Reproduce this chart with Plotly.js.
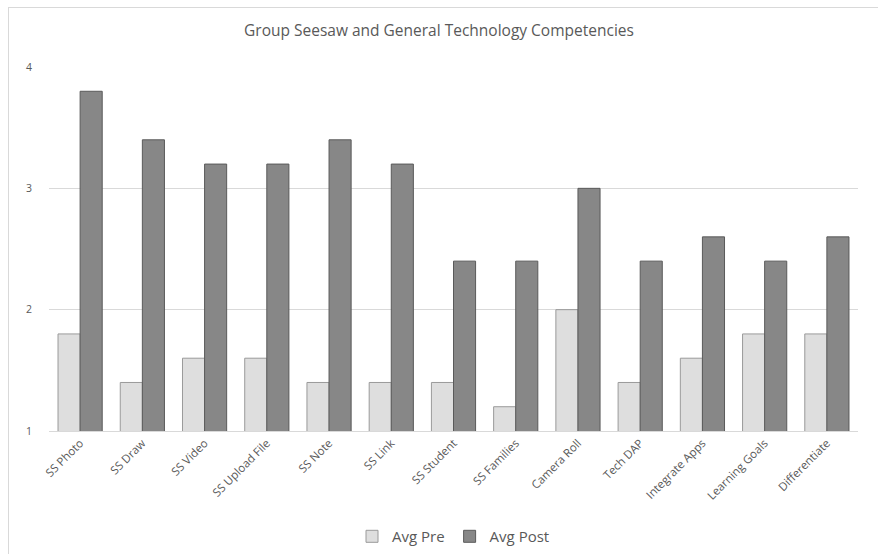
<!DOCTYPE html>
<html>
<head>
<meta charset="utf-8">
<script src="https://cdn.plot.ly/plotly-3.0.1.min.js"></script>
<style>
  html, body { margin: 0; padding: 0; background: #ffffff; }
  #wrap { position: relative; width: 878px; height: 554px; }
  #frame { position: absolute; left: 8px; top: 7px; right: 0; bottom: 0;
           border-left: 1px solid #d9d9d9; border-top: 1px solid #d9d9d9; }
  #chart { position: absolute; left: 0; top: 0; width: 878px; height: 554px; }
</style>
</head>
<body>
<div id="wrap">
  <div id="frame"></div>
  <div id="chart"></div>
</div>
<script>
const categories = ["SS Photo", "SS Draw", "SS Video", "SS Upload File", "SS Note", "SS Link",
  "SS Student", "SS Families", "Camera Roll", "Tech DAP", "Integrate Apps", "Learning Goals", "Differentiate"];
const avgPre  = [1.8, 1.4, 1.6, 1.6, 1.4, 1.4, 1.4, 1.2, 2.0, 1.4, 1.6, 1.8, 1.8];
const avgPost = [3.8, 3.4, 3.2, 3.2, 3.4, 3.2, 2.4, 2.4, 3.0, 2.4, 2.6, 2.4, 2.6];
const yTicks = [1, 2, 3, 4];
const titleText = "Group Seesaw and General Technology Competencies";

const textColor = "#595959";
const fontFam = "'Open Sans', 'Noto Sans', sans-serif";

const traces = [
  { type: "bar", name: "Avg Pre", x: categories, y: avgPre,
    marker: { color: "#dedede", line: { color: "#9a9a9a", width: 1 } }, hoverinfo: "x+y" },
  { type: "bar", name: "Avg Post", x: categories, y: avgPost,
    marker: { color: "#878787", line: { color: "#5a5a5a", width: 1 } }, hoverinfo: "x+y" }
];

const layout = {
  width: 878, height: 554,
  paper_bgcolor: "rgba(0,0,0,0)", plot_bgcolor: "rgba(0,0,0,0)",
  margin: { l: 49, r: 20, t: 67, b: 123, autoexpand: false },
  title: { text: titleText, font: { family: fontFam, size: 15.5, color: textColor },
           x: 0.5, xanchor: "center", y: 0.944, yanchor: "middle" },
  barmode: "group", bargap: 0.29, bargroupgap: 0,
  xaxis: { type: "category", tickangle: -45, showgrid: false, zeroline: false, automargin: false,
           showline: true, linecolor: "#d9d9d9", linewidth: 1, ticks: "",
           tickfont: { family: fontFam, size: 11.5, color: textColor } },
  yaxis: { range: [1, 4], tickvals: yTicks, ticktext: yTicks.map(String), automargin: false,
           showgrid: true, gridcolor: "#d9d9d9", gridwidth: 1, zeroline: false, showline: false,
           ticks: "outside", ticklen: 14, tickcolor: "rgba(0,0,0,0)",
           tickfont: { family: fontFam, size: 10.5, color: textColor } },
  showlegend: true,
  legend: { orientation: "h", x: 0.5, xanchor: "center", y: -0.29, yanchor: "middle",
            font: { family: fontFam, size: 15, color: textColor }, itemwidth: 30,
            traceorder: "normal" }
};

Plotly.newPlot("chart", traces, layout, { displayModeBar: false, staticPlot: true });
</script>
</body>
</html>
